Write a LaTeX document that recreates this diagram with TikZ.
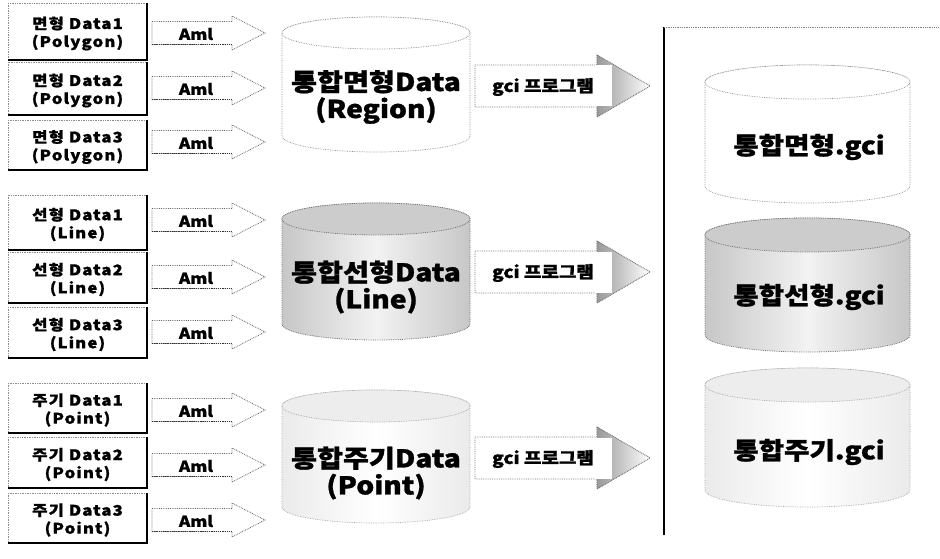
\documentclass[tikz,border=0pt]{standalone}
\usepackage{fontspec}
\setmainfont{Noto Sans CJK KR}[FakeStretch=1.15,BoldFeatures={FakeBold=1.2}]
\begin{document}
\begin{tikzpicture}[x=1pt,y=-1pt,
  lbox/.style={fill=white,draw=black!45,densely dotted,line width=0.7pt},
  lshadow/.style={draw=black,line width=1.6pt},
  ltext/.style={align=center,inner sep=0pt,font=\bfseries\fontsize{14.5}{18}\selectfont\addfontfeatures{LetterSpace=8}},
  amlarrow/.style={fill=white,draw=black!60,densely dotted,line width=0.8pt},
  amltext/.style={inner sep=0pt,font=\bfseries\fontsize{15}{16}\selectfont},
  gciarrow/.style={fill=white,draw=black!55,densely dotted,line width=0.8pt},
  gcitext/.style={inner sep=0pt,font=\bfseries\fontsize{16.5}{17}\selectfont},
  cylwhite/.style={fill=white,draw=black!45,densely dotted,line width=0.7pt},
  cylgray/.style={left color=black!22,right color=black!22,middle color=black!5,draw=black!55,densely dotted,line width=0.8pt},
  cylgraytop/.style={fill=black!20,draw=black!55,densely dotted,line width=0.8pt},
  cyllight/.style={left color=black!8,right color=black!8,middle color=white,draw=black!35,densely dotted,line width=0.7pt},
  cyllighttop/.style={fill=black!7,draw=black!35,densely dotted,line width=0.7pt},
  ctext/.style={align=center,inner sep=0pt,font=\bfseries\fontsize{24.5}{27}\selectfont},
  rtext/.style={inner sep=0pt,font=\bfseries\fontsize{24}{26}\selectfont}]
\useasboundingbox (0,0) rectangle (940,559);
% ---------- macros
\newcommand\leftbox[4]{% name, ytop, ybot, text
  \path[lbox] (8,#2) rectangle (147,#3);
  \draw[lshadow] (147,#2) -- (147,#3) -- (8,#3);
  \node[ltext] (#1) at (77.5,{(#2+#3)/2+2}) {#4};}
\newcommand\blockarrow[7]{% style, x1, xb, xtip, cy, bh, hh
  \path[#1] (#2,{#5-#6}) -- (#3,{#5-#6}) -- (#3,{#5-#7}) -- (#4,#5) -- (#3,{#5+#7}) -- (#3,{#5+#6}) -- (#2,{#5+#6}) -- cycle;}
\newcommand\cyl[7]{% style, topstyle, cx, rx, ytop, ybot, ry
  \path[#1] ({#3-#4},#5) -- ({#3-#4},#6) arc[start angle=180,end angle=360,x radius=#4pt,y radius=#7pt] -- ({#3+#4},#5) arc[start angle=0,end angle=180,x radius=#4pt,y radius=#7pt] -- cycle;
  \path[#2] (#3,#5) ellipse[x radius=#4pt,y radius=#7pt];}
% ---------- left boxes
\leftbox{p1}{3}{60}{면형 Data1\\(Polygon)}
\leftbox{p2}{62}{115}{면형 Data2\\(Polygon)}
\leftbox{p3}{120}{170}{면형 Data3\\(Polygon)}
\leftbox{l1}{195}{250}{선형 Data1\\(Line)}
\leftbox{l2}{252}{303}{선형 Data2\\(Line)}
\leftbox{l3}{307}{358}{선형 Data3\\(Line)}
\leftbox{t1}{383}{433}{주기 Data1\\(Point)}
\leftbox{t2}{437}{488}{주기 Data2\\(Point)}
\leftbox{t3}{493}{543}{주기 Data3\\(Point)}
% ---------- Aml arrows
\foreach \n/\cy in {a1/33,a2/88,a3/142,a4/220,a5/277,a6/332,a7/410,a8/465,a9/520}{
  \blockarrow{amlarrow}{152}{232}{265}{\cy}{11.5}{17}
  \draw[black!80,densely dotted,line width=1.2pt] (152,\cy+11.5) -- (232,\cy+11.5);
  \node[amltext] (\n) at (196,\cy+1) {Aml};
}
% ---------- middle cylinders
\cyl{cylwhite}{cylwhite}{376}{94}{33}{136}{16}
\node[ctext] (mr) at (376,97) {통합면형Data\\(Region)};
\cyl{cylgray}{cylgraytop}{376}{94}{219}{324}{16}
\node[ctext] (ml) at (376,287) {통합선형Data\\(Line)};
\cyl{cyllight}{cyllighttop}{376}{94}{406}{507}{16}
\node[ctext] (mp) at (376,473) {통합주기Data\\(Point)};
% ---------- gci arrows
\foreach \n/\cy in {g1/86,g2/272,g3/458}{
  \blockarrow{gciarrow}{475}{597}{650}{\cy}{21}{31}
  \path[left color=black!40,right color=white] (597,\cy-31) -- (650,\cy) -- (597,\cy+31) -- cycle;
  \path[fill=white] (595,\cy-20.5) rectangle (612,\cy+20.5);
  \draw[black!55,densely dotted,line width=0.8pt] (597,\cy-21) -- (597,\cy-31) -- (650,\cy) -- (597,\cy+31) -- (597,\cy+21);
  \node[gcitext] (\n) at (543,\cy+1) {gci 프로그램};
}
% ---------- right panel
\draw[black,line width=2pt] (664,27) coordinate (pt) -- (664,535) coordinate (pb);
\draw[black!50,densely dotted,line width=0.8pt] (pt) -- (938,27) coordinate (pr);
\cyl{cylwhite}{cylwhite}{807.5}{102.5}{82}{186}{17}
\node[rtext] (rr) at (809,147) {통합면형.gci};
\cyl{cylgray}{cylgraytop}{807.5}{102.5}{235}{335}{17}
\node[rtext] (rl) at (809,297) {통합선형.gci};
\cyl{cyllight}{cyllighttop}{807.5}{102.5}{385}{490}{17}
\node[rtext] (rp) at (809,452) {통합주기.gci};
\end{tikzpicture}
\end{document}
